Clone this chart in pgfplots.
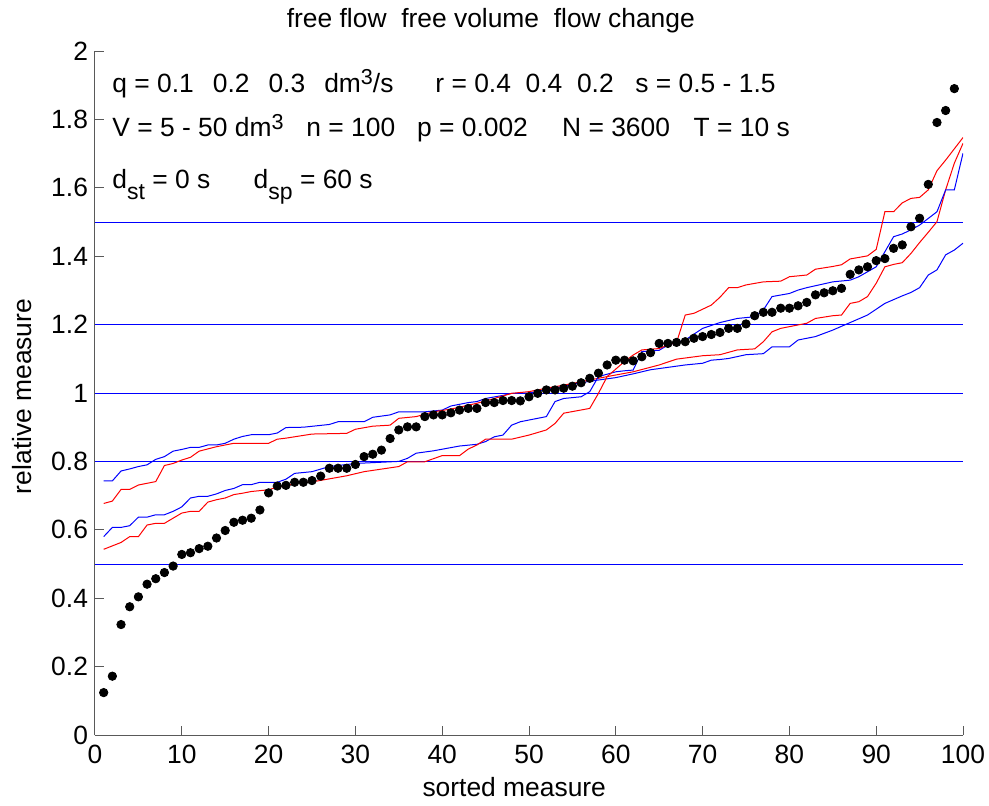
\documentclass[border=0pt]{standalone}
\usepackage{pgfplots}
\pgfplotsset{compat=1.18}
\usepackage{fontspec}
\setmainfont{Liberation Sans}
\newcommand{\fs}{\fontsize{13.2}{15.8}\selectfont}
\newcommand{\sups}[1]{\raisebox{3.8pt}{\fontsize{10.8}{10.8}\selectfont #1}}
\newcommand{\subs}[1]{\raisebox{-5.5pt}{\fontsize{11.5}{11.5}\selectfont #1}}
\newcommand{\dsp}{\hspace{0.556em}}
\newcommand{\qsp}{\hspace{0.72em}}
\begin{document}
\begin{tikzpicture}
\path[use as bounding box] (-47.5pt,-35pt) rectangle (447pt,367.5pt);
\begin{axis}[
  at={(0,0)}, anchor=south west,
  scale only axis, width=434pt, height=342pt,
  xmin=0, xmax=100, ymin=0, ymax=2,
  axis lines*=left,
  axis line style={black!65, line width=0.5pt},
  tick style={black!65, line width=0.5pt},
  tick align=inside,
  major tick length=4.5pt,
  xtick={0,10,...,100},
  ytick={0,0.2,...,2},
  font=\fs,
  tick label style={font=\fs},
  xticklabel style={yshift=-1.5pt},
  /pgf/number format/assume math mode=true,
  clip mode=individual,
]
% horizontal reference lines
\addplot[blue, line width=0.5pt] coordinates {(0,0.5)(100,0.5)};
\addplot[blue, line width=0.5pt] coordinates {(0,0.8)(100,0.8)};
\addplot[blue, line width=0.5pt] coordinates {(0,1.0)(100,1.0)};
\addplot[blue, line width=0.5pt] coordinates {(0,1.2)(100,1.2)};
\addplot[blue, line width=0.5pt] coordinates {(0,1.5)(100,1.5)};
% B1
\addplot[blue, line width=0.5pt] coordinates {
(1,0.743)(2,0.743)(3,0.772)(4,0.778)(5,0.785)(6,0.790)(7,0.806)(8,0.814)(9,0.830)(10,0.835)(11,0.841)(12,0.841)(13,0.848)(14,0.848)(15,0.853)(16,0.865)(17,0.873)(18,0.878)(20,0.878)(21,0.883)(22,0.899)(24,0.900)(27,0.908)(28,0.916)(31,0.916)(32,0.929)(34,0.936)(35,0.945)(38,0.945)(40,0.950)(41,0.962)(43,0.972)(44,0.975)(45,0.984)(47,0.993)(48,0.999)(50,1.0)(52,1.01)(54,1.02)(56,1.03)(58,1.038)(60,1.045)(62,1.056)(64,1.068)(66,1.075)(68,1.082)(70,1.087)(71,1.096)(72,1.098)(73,1.101)(75,1.112)(77,1.115)(78,1.135)(80,1.135)(81,1.155)(83,1.165)(85,1.184)(87,1.206)(89,1.228)(91,1.262)(93,1.284)(94,1.294)(95,1.308)(96,1.345)(97,1.360)(98,1.404)(99,1.418)(100,1.438)};
% R1
\addplot[red, line width=0.5pt] coordinates {
(1,0.677)(2,0.684)(3,0.718)(4,0.718)(5,0.731)(7,0.741)(8,0.788)(9,0.794)(10,0.804)(11,0.812)(12,0.830)(14,0.843)(16,0.853)(20,0.853)(21,0.865)(22,0.868)(25,0.880)(29,0.882)(30,0.894)(32,0.903)(34,0.906)(35,0.926)(37,0.931)(39,0.945)(41,0.953)(44,0.970)(46,0.984)(48,0.999)(50,1.004)(52,1.014)(54,1.023)(57,1.038)(59,1.048)(62,1.062)(65,1.082)(67,1.099)(70,1.109)(72,1.112)(74,1.126)(76,1.129)(77,1.150)(78,1.179)(79,1.189)(80,1.194)(82,1.204)(83,1.218)(85,1.226)(86,1.228)(87,1.262)(88,1.267)(89,1.282)(90,1.321)(91,1.369)(92,1.376)(93,1.381)(94,1.408)(95,1.440)(96,1.470)(97,1.501)(98,1.594)(99,1.672)(100,1.730)};
% B2
\addplot[blue, line width=0.5pt] coordinates {
(1,0.580)(2,0.607)(3,0.607)(4,0.612)(5,0.637)(6,0.637)(7,0.644)(8,0.644)(9,0.654)(10,0.667)(11,0.693)(12,0.698)(13,0.698)(14,0.705)(15,0.715)(16,0.721)(17,0.732)(18,0.732)(19,0.739)(21,0.739)(22,0.748)(23,0.765)(25,0.770)(27,0.785)(30,0.794)(35,0.800)(36,0.809)(37,0.824)(39,0.831)(42,0.845)(44,0.850)(45,0.858)(46,0.872)(47,0.877)(48,0.906)(49,0.916)(50,0.921)(52,0.931)(53,0.975)(54,0.984)(56,0.989)(57,1.004)(58,1.048)(60,1.062)(61,1.065)(62,1.067)(63,1.121)(65,1.125)(66,1.140)(68,1.155)(70,1.189)(72,1.206)(74,1.218)(76,1.223)(77,1.243)(78,1.282)(80,1.291)(81,1.301)(82,1.308)(85,1.325)(87,1.330)(88,1.340)(90,1.369)(92,1.457)(93,1.465)(94,1.477)(95,1.491)(97,1.530)(98,1.594)(99,1.594)(100,1.701)};
% R2
\addplot[red, line width=0.5pt] coordinates {
(1,0.543)(2,0.553)(3,0.563)(4,0.580)(5,0.580)(6,0.614)(7,0.619)(8,0.619)(9,0.634)(10,0.649)(11,0.654)(12,0.654)(13,0.681)(14,0.688)(15,0.693)(16,0.703)(17,0.707)(18,0.712)(20,0.717)(21,0.725)(22,0.727)(23,0.737)(25,0.740)(29,0.758)(31,0.770)(35,0.785)(36,0.799)(38,0.799)(40,0.817)(42,0.817)(43,0.836)(44,0.848)(45,0.865)(48,0.865)(50,0.877)(52,0.892)(53,0.911)(54,0.941)(57,0.955)(58,0.999)(59,1.048)(61,1.092)(62,1.111)(63,1.126)(65,1.130)(66,1.140)(67,1.148)(68,1.228)(69,1.233)(71,1.257)(72,1.280)(73,1.308)(74,1.308)(75,1.316)(77,1.325)(79,1.327)(80,1.340)(82,1.345)(83,1.362)(85,1.370)(86,1.375)(87,1.392)(89,1.401)(90,1.420)(91,1.530)(92,1.530)(93,1.556)(94,1.569)(95,1.572)(96,1.594)(97,1.650)(98,1.681)(100,1.747)};
% dots
\addplot[only marks, mark=*, mark size=2.1pt, black] coordinates {
(1,0.124)(2,0.172)(3,0.323)(4,0.375)(5,0.404)(6,0.441)(7,0.457)(8,0.475)(9,0.494)(10,0.528)
(11,0.533)(12,0.545)(13,0.552)(14,0.576)(15,0.598)(16,0.622)(17,0.628)(18,0.634)(19,0.658)(20,0.708)
(21,0.728)(22,0.730)(23,0.739)(24,0.739)(25,0.744)(26,0.757)(27,0.780)(28,0.780)(29,0.780)(30,0.791)
(31,0.814)(32,0.821)(33,0.833)(34,0.867)(35,0.892)(36,0.901)(37,0.901)(38,0.931)(39,0.936)(40,0.936)
(41,0.942)(42,0.950)(43,0.955)(44,0.955)(45,0.972)(46,0.972)(47,0.978)(48,0.978)(49,0.977)(50,0.989)
(51,0.999)(52,1.009)(53,1.009)(54,1.014)(55,1.020)(56,1.030)(57,1.043)(58,1.058)(59,1.082)(60,1.096)
(61,1.096)(62,1.094)(63,1.106)(64,1.118)(65,1.145)(66,1.145)(67,1.148)(68,1.150)(69,1.160)(70,1.165)
(71,1.171)(72,1.177)(73,1.189)(74,1.189)(75,1.202)(76,1.226)(77,1.236)(78,1.236)(79,1.248)(80,1.248)
(81,1.255)(82,1.265)(83,1.287)(84,1.293)(85,1.299)(86,1.306)(87,1.347)(88,1.360)(89,1.369)(90,1.387)
(91,1.393)(92,1.423)(93,1.433)(94,1.486)(95,1.511)(96,1.610)(97,1.791)(98,1.826)(99,1.890)};
% texts
\node[anchor=base, inner sep=0pt] at (axis cs:45.6,2.070) {free flow\dsp free volume\dsp flow change};
\node[anchor=base, inner sep=0pt] at (axis cs:48.3,-0.181) {sorted measure};
\node[anchor=base, inner sep=0pt, rotate=90] at (axis cs:-7.26,0.99) {relative measure};
\node[anchor=base west, inner sep=0pt] at (axis cs:1.96,1.880) {q = 0.1\qsp 0.2\qsp 0.3\qsp dm\sups{3}/s};
\node[anchor=base west, inner sep=0pt] at (axis cs:39.17,1.880) {r = 0.4\dsp 0.4\dsp 0.2};
\node[anchor=base west, inner sep=0pt] at (axis cs:62.21,1.880) {s = 0.5 - 1.5};
\node[anchor=base west, inner sep=0pt] at (axis cs:1.96,1.749) {V = 5 - 50 dm\sups{3}};
\node[anchor=base west, inner sep=0pt] at (axis cs:24.31,1.749) {n = 100};
\node[anchor=base west, inner sep=0pt] at (axis cs:37.06,1.749) {p = 0.002};
\node[anchor=base west, inner sep=0pt] at (axis cs:53.77,1.749) {N = 3600};
\node[anchor=base west, inner sep=0pt] at (axis cs:68.93,1.749) {T = 10 s};
\node[anchor=base west, inner sep=0pt] at (axis cs:1.96,1.598) {d\subs{st} = 0 s};
\node[anchor=base west, inner sep=0pt] at (axis cs:18.24,1.598) {d\subs{sp} = 60 s};
\end{axis}
\end{tikzpicture}
\end{document}
